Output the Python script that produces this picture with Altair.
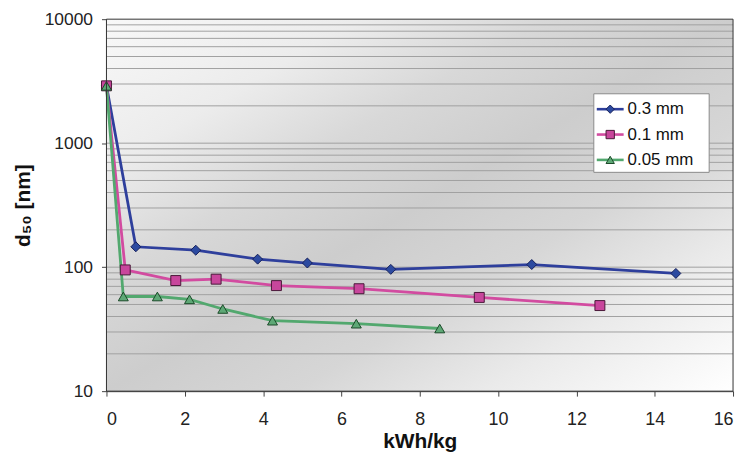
import altair as alt
import pandas as pd

series_names = ["0.3 mm", "0.1 mm", "0.05 mm"]

x_03 = [0, 0.75, 2.28, 3.86, 5.13, 7.26, 10.86, 14.54]
y_03 = [2900, 146, 137, 116, 108, 96, 105, 89]

x_01 = [0, 0.48, 1.77, 2.8, 4.34, 6.45, 9.52, 12.6]
y_01 = [2900, 95, 78, 80, 71, 67, 57, 49]

x_005 = [0, 0.43, 1.3, 2.12, 2.97, 4.24, 6.38, 8.51]
y_005 = [2900, 58, 58, 55, 46, 37, 35, 32]

x_ticks = [0, 2, 4, 6, 8, 10, 12, 14, 16]
y_ticks = [10, 100, 1000, 10000]
grid_values = [m * 10 ** e for e in range(1, 4) for m in range(1, 10) if not (m == 1 and e == 1)]

line_colors = ["#2e3f9c", "#d24ba0", "#52a86e"]
marker_fills = ["#2c4aa0", "#c8469c", "#5ea876"]
marker_strokes = ["#16205a", "#4a1838", "#1a4a28"]
shapes = ["diamond", "square", "triangle-up"]

rows = []
for name, xs, ys in [(series_names[0], x_03, y_03), (series_names[1], x_01, y_01), (series_names[2], x_005, y_005)]:
    for i, (xv, yv) in enumerate(zip(xs, ys)):
        rows.append({"series": name, "x": xv, "y": yv, "order": i})
df = pd.DataFrame(rows)

legend_df = pd.DataFrame({"series": series_names, "rank": list(range(len(series_names)))})
grid_df = pd.DataFrame({"g": grid_values})
one = pd.DataFrame({"a": [0]})

W, H = 630, 374
FONT = "Liberation Sans"

color_scale = alt.Scale(domain=series_names, range=line_colors)
fill_scale = alt.Scale(domain=series_names, range=marker_fills)
stroke_scale = alt.Scale(domain=series_names, range=marker_strokes)
shape_scale = alt.Scale(domain=series_names, range=shapes)
x_scale = alt.Scale(domain=[0, 16], nice=False)
y_scale = alt.Scale(type="log", domain=[10, 10000], nice=False)

x_axis = alt.Axis(values=x_ticks, title="kWh/kg", grid=False, format="d",
                  labelFontSize=18, titleFontSize=21, labelPadding=15, titlePadding=2)
y_axis = alt.Axis(values=y_ticks, title="d₅₀ [nm]", grid=False, format="d",
                  labelFontSize=17.5, titleFontSize=21, labelPadding=9, titlePadding=11)

background = alt.Chart(one).mark_rect(
    fill=alt.LinearGradient(
        gradient="linear",
        x1=0, y1=0, x2=1, y2=1,
        stops=[
            alt.GradientStop(offset=0, color="#f8f8f8"),
            alt.GradientStop(offset=0.2, color="#ececec"),
            alt.GradientStop(offset=0.35, color="#d8d8d8"),
            alt.GradientStop(offset=0.5, color="#cdcdcd"),
            alt.GradientStop(offset=0.65, color="#d6d6d6"),
            alt.GradientStop(offset=0.8, color="#eaeaea"),
            alt.GradientStop(offset=1, color="#ffffff"),
        ],
    )
).encode(x=alt.value(0), x2=alt.value(W), y=alt.value(0), y2=alt.value(H))

grid = alt.Chart(grid_df).mark_rule(color="#a0a0a0", strokeWidth=1).encode(
    y=alt.Y("g:Q", scale=y_scale, axis=y_axis)
)

lines = alt.Chart(df).mark_line(strokeWidth=2.8).encode(
    x=alt.X("x:Q", scale=x_scale, axis=x_axis),
    y=alt.Y("y:Q", scale=y_scale, axis=y_axis),
    color=alt.Color("series:N", scale=color_scale, legend=None),
    detail="series:N",
    order="order:Q",
)

points = alt.Chart(df).mark_point(filled=True, opacity=1, strokeWidth=1, size=100).encode(
    x=alt.X("x:Q", scale=x_scale, axis=x_axis),
    y=alt.Y("y:Q", scale=y_scale, axis=y_axis),
    fill=alt.Fill("series:N", scale=fill_scale, legend=None),
    stroke=alt.Stroke("series:N", scale=stroke_scale, legend=None),
    shape=alt.Shape("series:N", scale=shape_scale, legend=None),
)

# manual legend (line + marker symbols)
LX, LY = 490, 75
legend_box = alt.Chart(one).mark_rect(fill="white", stroke="#8a8a8a", strokeWidth=1).encode(
    x=alt.value(LX), x2=alt.value(LX + 116), y=alt.value(LY), y2=alt.value(LY + 79)
)
leg_base = alt.Chart(legend_df).transform_calculate(ly=f"{LY + 15.5} + 25.5 * datum.rank")
leg_rules = leg_base.mark_rule(strokeWidth=2.6).encode(
    x=alt.value(LX + 3), x2=alt.value(LX + 30),
    y=alt.Y("ly:Q", scale=None, axis=None),
    color=alt.Color("series:N", scale=color_scale, legend=None),
)
leg_points = leg_base.mark_point(filled=True, opacity=1, strokeWidth=1, size=70).encode(
    x=alt.value(LX + 16.5),
    y=alt.Y("ly:Q", scale=None, axis=None),
    fill=alt.Fill("series:N", scale=fill_scale, legend=None),
    stroke=alt.Stroke("series:N", scale=stroke_scale, legend=None),
    shape=alt.Shape("series:N", scale=shape_scale, legend=None),
)
leg_text = leg_base.mark_text(align="left", baseline="middle", fontSize=17, font=FONT, color="#111").encode(
    x=alt.value(LX + 34),
    y=alt.Y("ly:Q", scale=None, axis=None),
    text="series:N",
)

border = alt.Chart(one).mark_rect(filled=False, stroke="#333333", strokeWidth=1).encode(
    x=alt.value(0), x2=alt.value(W), y=alt.value(0), y2=alt.value(H)
)

chart = alt.layer(
    background, grid, lines, points, legend_box, leg_rules, leg_points, leg_text, border
).properties(
    width=W, height=H,
    autosize=alt.AutoSizeParams(type="none"),
    padding={"left": 99, "top": 10, "right": 8, "bottom": 70},
    background="white",
).configure_view(stroke=None).configure_axis(
    labelFont=FONT, labelColor="#222",
    titleFont=FONT, titleFontWeight="bold", titleColor="#111",
    domainColor="#222", domainWidth=1, tickColor="#444", tickSize=5,
)

chart.save("out.html", embed_options={"renderer": "svg", "actions": False})
